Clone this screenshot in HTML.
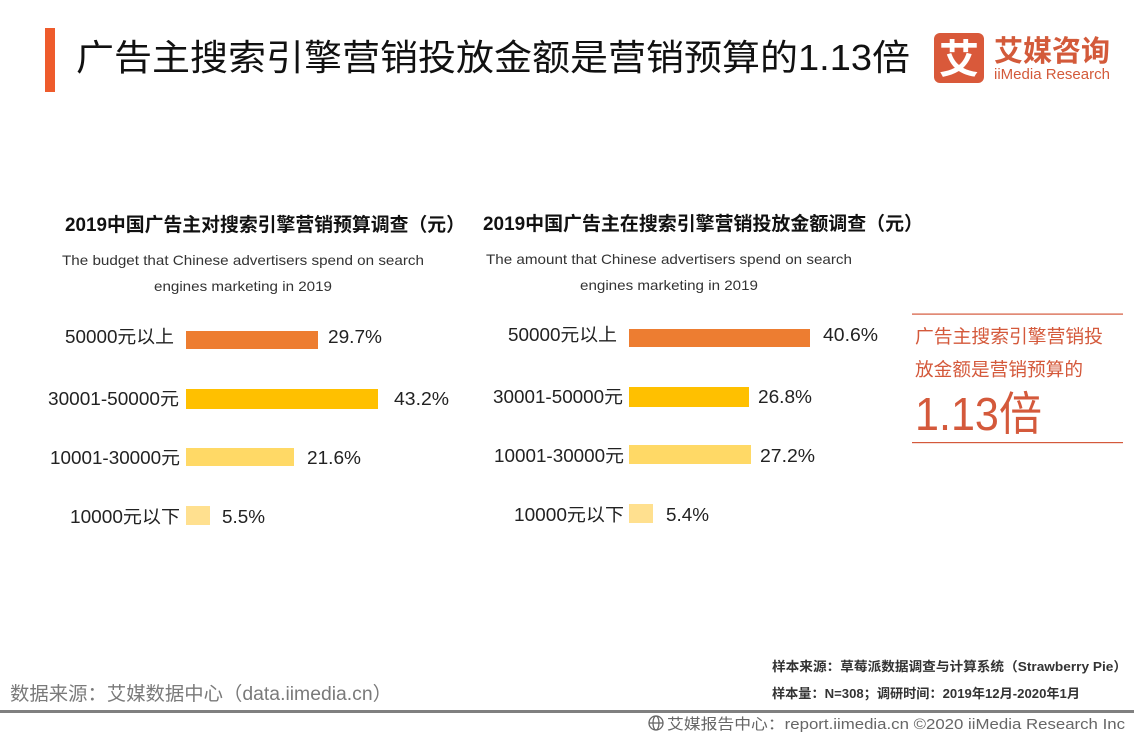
<!DOCTYPE html>
<html>
<head>
<meta charset="utf-8">
<style>
  html,body{margin:0;padding:0;background:#fff;}
  svg{display:block;}
  text{font-family:"Liberation Sans","Noto Sans CJK SC",sans-serif;}
</style>
</head>
<body>
<svg width="1134" height="737" viewBox="0 0 1134 737" xmlns="http://www.w3.org/2000/svg">
  <rect x="0" y="0" width="1134" height="737" fill="#ffffff"/>

  <!-- Header -->
  <rect x="45" y="28" width="10" height="64" fill="#ee5b2c"/>
  <text x="76" y="70" font-size="36" fill="#111" textLength="834" lengthAdjust="spacingAndGlyphs">广告主搜索引擎营销投放金额是营销预算的1.13倍</text>

  <!-- Logo -->
  <rect x="934" y="33" width="50" height="50" rx="6" fill="#d9593a"/>
  <text x="959" y="73" font-size="40" font-weight="bold" fill="#fff" text-anchor="middle">艾</text>
  <text x="994" y="61" font-size="29" font-weight="bold" fill="#d35a3a" textLength="116" lengthAdjust="spacingAndGlyphs">艾媒咨询</text>
  <text x="994" y="79" font-size="15" fill="#d35a3a" textLength="116" lengthAdjust="spacingAndGlyphs">iiMedia Research</text>

  <!-- Left chart -->
  <text x="65" y="231" font-size="19" font-weight="bold" fill="#111" textLength="400" lengthAdjust="spacingAndGlyphs">2019中国广告主对搜索引擎营销预算调查（元）</text>
  <text x="62" y="265" font-size="14" fill="#333" textLength="362" lengthAdjust="spacingAndGlyphs">The budget that Chinese advertisers spend on search</text>
  <text x="154" y="291" font-size="14" fill="#333" textLength="178" lengthAdjust="spacingAndGlyphs">engines marketing in 2019</text>

  <rect x="186" y="331" width="132" height="18" fill="#ed7d31"/>
  <rect x="186" y="389" width="192" height="20" fill="#ffc000"/>
  <rect x="186" y="448" width="108" height="18" fill="#ffd966"/>
  <rect x="186" y="506" width="24" height="19" fill="#ffe08f"/>

  <g font-size="18" fill="#222">
    <text x="65" y="343" textLength="109" lengthAdjust="spacingAndGlyphs">50000元以上</text>
    <text x="48" y="405" textLength="131" lengthAdjust="spacingAndGlyphs">30001-50000元</text>
    <text x="50" y="464" textLength="130" lengthAdjust="spacingAndGlyphs">10001-30000元</text>
    <text x="70" y="523" textLength="110" lengthAdjust="spacingAndGlyphs">10000元以下</text>
    <text x="328" y="343" textLength="54" lengthAdjust="spacingAndGlyphs">29.7%</text>
    <text x="394" y="405" textLength="55" lengthAdjust="spacingAndGlyphs">43.2%</text>
    <text x="307" y="464" textLength="54" lengthAdjust="spacingAndGlyphs">21.6%</text>
    <text x="222" y="523" textLength="43" lengthAdjust="spacingAndGlyphs">5.5%</text>
  </g>

  <!-- Right chart -->
  <text x="483" y="230" font-size="19" font-weight="bold" fill="#111" textLength="440" lengthAdjust="spacingAndGlyphs">2019中国广告主在搜索引擎营销投放金额调查（元）</text>
  <text x="486" y="264" font-size="14" fill="#333" textLength="366" lengthAdjust="spacingAndGlyphs">The amount that Chinese advertisers spend on search</text>
  <text x="580" y="290" font-size="14" fill="#333" textLength="178" lengthAdjust="spacingAndGlyphs">engines marketing in 2019</text>

  <rect x="629" y="329" width="181" height="18" fill="#ed7d31"/>
  <rect x="629" y="387" width="120" height="20" fill="#ffc000"/>
  <rect x="629" y="445" width="122" height="19" fill="#ffd966"/>
  <rect x="629" y="504" width="24" height="19" fill="#ffe08f"/>

  <g font-size="18" fill="#222">
    <text x="508" y="341" textLength="109" lengthAdjust="spacingAndGlyphs">50000元以上</text>
    <text x="493" y="403" textLength="130" lengthAdjust="spacingAndGlyphs">30001-50000元</text>
    <text x="494" y="462" textLength="130" lengthAdjust="spacingAndGlyphs">10001-30000元</text>
    <text x="514" y="521" textLength="110" lengthAdjust="spacingAndGlyphs">10000元以下</text>
    <text x="823" y="341" textLength="55" lengthAdjust="spacingAndGlyphs">40.6%</text>
    <text x="758" y="403" textLength="54" lengthAdjust="spacingAndGlyphs">26.8%</text>
    <text x="760" y="462" textLength="55" lengthAdjust="spacingAndGlyphs">27.2%</text>
    <text x="666" y="521" textLength="43" lengthAdjust="spacingAndGlyphs">5.4%</text>
  </g>

  <!-- Highlight box -->
  <rect x="912" y="313.5" width="211" height="1.2" fill="#d4593b"/>
  <rect x="912" y="442" width="211" height="1.2" fill="#d4593b"/>
  <text x="915" y="343" font-size="18.5" fill="#d4593b" textLength="188" lengthAdjust="spacingAndGlyphs">广告主搜索引擎营销投</text>
  <text x="915" y="376" font-size="18.5" fill="#d4593b" textLength="168" lengthAdjust="spacingAndGlyphs">放金额是营销预算的</text>
  <text x="915" y="430" font-size="46" fill="#d4593b" textLength="127" lengthAdjust="spacingAndGlyphs">1.13倍</text>

  <!-- Footer -->
  <text x="772" y="671" font-size="13" font-weight="bold" fill="#333" textLength="355" lengthAdjust="spacingAndGlyphs">样本来源：草莓派数据调查与计算系统（Strawberry Pie）</text>
  <text x="772" y="698" font-size="13" font-weight="bold" fill="#333" textLength="308" lengthAdjust="spacingAndGlyphs">样本量：N=308；调研时间：2019年12月-2020年1月</text>
  <text x="10" y="700" font-size="19" fill="#7a7a7a" textLength="382" lengthAdjust="spacingAndGlyphs">数据来源：艾媒数据中心（data.iimedia.cn）</text>
  <rect x="0" y="710" width="1134" height="3" fill="#808080"/>

  <!-- globe icon -->
  <g stroke="#666" fill="none" stroke-width="1.3">
    <circle cx="656" cy="723" r="7"/>
    <ellipse cx="656" cy="723" rx="3" ry="7"/>
    <line x1="649" y1="723" x2="663" y2="723"/>
  </g>
  <text x="667" y="729" font-size="15" fill="#666" textLength="458" lengthAdjust="spacingAndGlyphs">艾媒报告中心：report.iimedia.cn  ©2020  iiMedia Research Inc</text>
</svg>
</body>
</html>
